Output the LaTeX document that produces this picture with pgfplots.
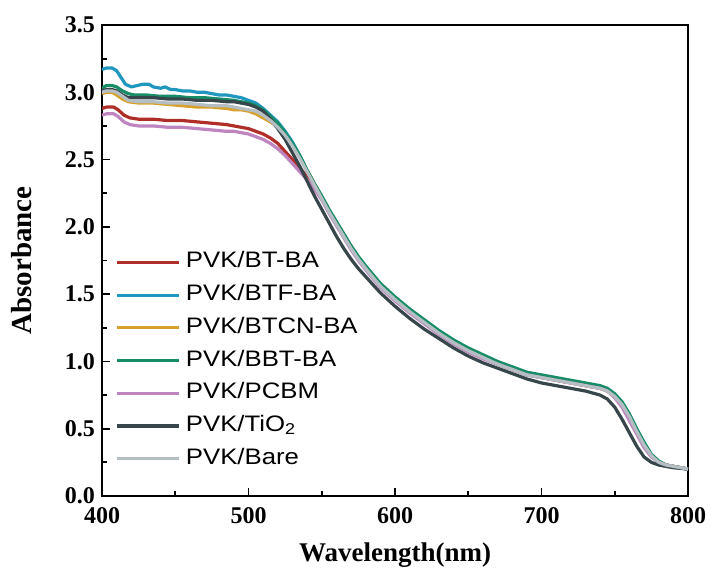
\documentclass[border=0pt]{standalone}
\usepackage{pgfplots}
\pgfplotsset{compat=1.18}
\usepackage{fontspec}
\setmainfont{Liberation Serif}
\newfontfamily\legfont[FakeStretch=1.15]{Liberation Sans}
\definecolor{cRed}{RGB}{176,46,40}
\definecolor{cCyan}{RGB}{31,151,190}
\definecolor{cOrange}{RGB}{214,160,42}
\definecolor{cGreen}{RGB}{23,140,102}
\definecolor{cPurple}{RGB}{190,133,190}
\definecolor{cDark}{RGB}{55,70,75}
\definecolor{cGray}{RGB}{180,190,195}
\begin{document}
\begin{tikzpicture}
\begin{axis}[
  scale only axis, width=293pt, height=235.5pt,
  xmin=400, xmax=800, ymin=0, ymax=3.5,
  xtick={400,500,...,800}, ytick={0,0.5,...,3.5},
  minor x tick num=1, minor y tick num=1,
  tick align=inside, xtick pos=bottom, ytick pos=left,
  major tick length=4pt, minor tick length=2.5pt,
  axis line style={line width=1pt}, every tick/.style={line width=0.9pt, black},
  /pgf/number format/assume math mode=true,
  xticklabel={\pgfmathprintnumber[fixed, precision=0]{\tick}},
  yticklabel={\pgfmathprintnumber[fixed, fixed zerofill, precision=1]{\tick}},
  ticklabel style={font=\fontsize{12}{14}\selectfont\bfseries},
  xticklabel style={yshift=-2pt},
  xlabel={Wavelength(nm)}, ylabel={Absorbance},
  every axis x label/.style={at={(axis description cs:0.5,-0.125)}, anchor=center,
     font=\fontsize{13.5}{16}\selectfont\bfseries},
  every axis y label/.style={at={(axis description cs:-0.137,0.5)}, anchor=center, rotate=90,
     font=\fontsize{14.5}{17}\selectfont\bfseries},
  legend style={draw=none, fill=none, at={(axis description cs:0.022,0.519)}, anchor=north west,
    inner sep=0pt, row sep=5.85pt, column sep=2.7pt,
    nodes={inner sep=0pt, text height=8pt, text depth=2.5pt, anchor=west},
    font=\legfont\fontsize{11.2}{13}\selectfont},
  legend cell align=left,
  legend image code/.code={\draw[#1] (0pt,0pt) -- (31pt,0pt);},
  every axis plot/.append style={line width=1.6pt, line join=round},
]
\coordinate (O) at (rel axis cs:0,0);
% PVK/BT-BA
\addplot[cRed] coordinates {
(400,2.88)(403,2.89)(408,2.89)(411,2.87)(415,2.83)(419,2.81)(425,2.80)(435,2.80)(445,2.79)(455,2.79)(465,2.78)(475,2.77)(485,2.76)(490,2.75)(495,2.74)(500,2.73)(505,2.71)(510,2.69)(515,2.66)(520,2.62)(525,2.56)(530,2.50)(535,2.44)(540,2.37)(545,2.30)
(550,2.21)(555,2.11)(560,2.02)(565,1.93)(570,1.84)(575,1.76)(580,1.69)(590,1.56)(600,1.46)(610,1.37)(620,1.29)(630,1.21)(640,1.14)(650,1.08)(660,1.03)(670,0.98)(680,0.94)(690,0.90)(700,0.88)(710,0.86)(720,0.84)(730,0.82)(740,0.80)(745,0.78)(750,0.74)(755,0.68)(760,0.59)(765,0.48)(770,0.38)(775,0.30)(780,0.25)(785,0.23)(790,0.22)(795,0.21)(800,0.20)};
\addlegendentry{PVK/BT-BA}
% PVK/BTF-BA
\addplot[cCyan] coordinates {
(400,3.17)(403,3.18)(407,3.18)(410,3.16)(413,3.11)(416,3.06)(420,3.04)(424,3.05)(428,3.06)(432,3.06)(435,3.04)(440,3.03)(443,3.04)(447,3.02)(450,3.02)(455,3.01)(460,3.01)(465,3.00)(470,3.00)(475,2.99)(480,2.98)(485,2.98)(490,2.97)(495,2.96)(500,2.94)(505,2.92)(510,2.88)(515,2.83)(520,2.78)(525,2.71)(530,2.63)(535,2.53)(540,2.42)
(545,2.32)(550,2.22)(555,2.12)(560,2.03)(565,1.94)(570,1.85)(575,1.77)(580,1.70)(590,1.57)(600,1.47)(610,1.38)(620,1.30)(630,1.22)(640,1.15)(650,1.09)(660,1.04)(670,0.99)(680,0.95)(690,0.91)(700,0.89)(710,0.87)(720,0.85)(730,0.83)(740,0.81)(745,0.79)(750,0.75)(755,0.69)(760,0.60)(765,0.49)(770,0.39)(775,0.30)(780,0.25)(785,0.23)(790,0.22)(795,0.21)(800,0.20)};
\addlegendentry{PVK/BTF-BA}
% PVK/BTCN-BA
\addplot[cOrange] coordinates {
(400,2.99)(403,3.00)(407,3.00)(410,2.98)(414,2.95)(418,2.93)(425,2.92)(435,2.92)(445,2.91)(455,2.90)(465,2.89)(475,2.89)(485,2.88)(490,2.87)(495,2.87)(500,2.86)(505,2.84)(510,2.81)(515,2.78)(520,2.74)(525,2.68)(530,2.61)(535,2.52)(540,2.42)
(545,2.32)(550,2.22)(555,2.12)(560,2.03)(565,1.94)(570,1.85)(575,1.77)(580,1.70)(590,1.57)(600,1.47)(610,1.38)(620,1.30)(630,1.22)(640,1.15)(650,1.09)(660,1.04)(670,0.99)(680,0.95)(690,0.91)(700,0.89)(710,0.87)(720,0.85)(730,0.83)(740,0.81)(745,0.79)(750,0.75)(755,0.69)(760,0.60)(765,0.49)(770,0.39)(775,0.30)(780,0.25)(785,0.23)(790,0.22)(795,0.21)(800,0.20)};
\addlegendentry{PVK/BTCN-BA}
% PVK/BBT-BA
\addplot[cGreen] coordinates {
(400,3.03)(403,3.05)(407,3.05)(410,3.04)(414,3.01)(418,2.99)(422,2.98)(430,2.98)(440,2.97)(450,2.97)(460,2.96)(470,2.96)(480,2.95)(490,2.94)(495,2.93)(500,2.92)(505,2.90)(510,2.87)(515,2.82)(520,2.77)(525,2.70)(530,2.62)(535,2.53)(540,2.42)(545,2.32)
(550,2.23)(555,2.13)(560,2.04)(565,1.95)(570,1.86)(575,1.78)(580,1.71)(590,1.58)(600,1.48)(610,1.39)(620,1.31)(630,1.23)(640,1.16)(650,1.10)(660,1.05)(670,1.00)(680,0.96)(690,0.92)(700,0.90)(710,0.88)(720,0.86)(730,0.84)(740,0.82)(745,0.80)(750,0.76)(755,0.70)(760,0.61)(765,0.50)(770,0.40)(775,0.31)(780,0.26)(785,0.23)(790,0.22)(795,0.21)(800,0.20)};
\addlegendentry{PVK/BBT-BA}
% PVK/PCBM
\addplot[cPurple] coordinates {
(400,2.83)(403,2.84)(408,2.84)(411,2.82)(415,2.78)(419,2.76)(425,2.75)(435,2.75)(445,2.74)(455,2.74)(465,2.73)(475,2.72)(485,2.71)(490,2.71)(495,2.70)(500,2.69)(505,2.67)(510,2.65)(515,2.62)(520,2.58)(525,2.53)(530,2.47)(535,2.41)(540,2.35)(545,2.28)
(550,2.20)(555,2.10)(560,2.01)(565,1.92)(570,1.83)(575,1.75)(580,1.68)(590,1.55)(600,1.45)(610,1.36)(620,1.28)(630,1.20)(640,1.13)(650,1.07)(660,1.02)(670,0.98)(680,0.94)(690,0.90)(700,0.88)(710,0.86)(720,0.84)(730,0.82)(740,0.80)(745,0.78)(750,0.73)(755,0.66)(760,0.56)(765,0.46)(770,0.36)(775,0.29)(780,0.25)(785,0.23)(790,0.22)(795,0.21)(800,0.20)};
\addlegendentry{PVK/PCBM}
% PVK/TiO2
\addplot[cDark] coordinates {
(400,3.01)(403,3.02)(407,3.02)(410,3.01)(414,2.98)(418,2.96)(425,2.96)(435,2.96)(445,2.95)(455,2.95)(465,2.94)(475,2.94)(485,2.93)(490,2.93)(495,2.92)(500,2.91)(505,2.89)(510,2.86)(515,2.80)(520,2.73)(525,2.65)(530,2.55)(535,2.45)(540,2.34)(545,2.23)
(550,2.13)(555,2.03)(560,1.93)(565,1.84)(570,1.76)(575,1.69)(580,1.63)(590,1.51)(600,1.41)(610,1.32)(620,1.24)(630,1.17)(640,1.10)(650,1.04)(660,0.99)(670,0.95)(680,0.91)(690,0.87)(700,0.84)(710,0.82)(720,0.80)(730,0.78)(740,0.75)(745,0.72)(750,0.66)(755,0.57)(760,0.47)(765,0.37)(770,0.29)(775,0.25)(780,0.23)(790,0.21)(800,0.20)};
\addlegendentry{PVK/TiO\textsubscript{2}}
% PVK/Bare
\addplot[cGray] coordinates {
(400,3.00)(403,3.01)(407,3.01)(410,3.00)(414,2.97)(418,2.94)(425,2.93)(435,2.93)(445,2.92)(455,2.92)(465,2.91)(475,2.90)(485,2.90)(490,2.89)(495,2.88)(500,2.87)(505,2.86)(510,2.83)(515,2.79)(520,2.74)(525,2.68)(530,2.60)(535,2.51)(540,2.41)
(545,2.31)(550,2.21)(555,2.11)(560,2.02)(565,1.93)(570,1.84)(575,1.76)(580,1.69)(590,1.56)(600,1.46)(610,1.37)(620,1.29)(630,1.21)(640,1.14)(650,1.08)(660,1.03)(670,0.98)(680,0.94)(690,0.90)(700,0.88)(710,0.86)(720,0.84)(730,0.82)(740,0.80)(745,0.78)(750,0.74)(755,0.68)(760,0.59)(765,0.48)(770,0.38)(775,0.30)(780,0.25)(785,0.23)(790,0.22)(795,0.21)(800,0.20)};
\addlegendentry{PVK/Bare}
\end{axis}
\pgfresetboundingbox
\path (O) ++(-51pt,-42pt) rectangle ++(355.5pt,290pt);
\end{tikzpicture}
\end{document}
